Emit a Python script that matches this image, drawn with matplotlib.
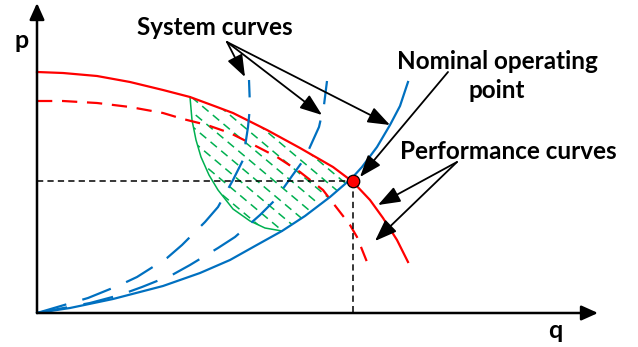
import numpy as np
import matplotlib
matplotlib.use("Agg")
import matplotlib.pyplot as plt
from matplotlib.patches import Polygon, FancyArrowPatch

plt.rcParams['lines.scale_dashes'] = False
plt.rcParams['lines.solid_joinstyle'] = 'round'
plt.rcParams['lines.dash_joinstyle'] = 'round'
plt.rcParams['font.family'] = ['Lato', 'DejaVu Sans']

# ---- Data (schematic units: q flow, p pressure) ----
perf_q = [0, 26, 60, 93, 126, 153, 180, 196, 210, 230, 263, 296, 316, 333, 346, 360, 371]
perf_p = [241, 240, 237, 231, 223, 216, 206, 200, 193, 183, 165, 146, 131, 113, 95, 73, 51]
perf2_q = [0, 26, 60, 93, 126, 146, 170, 193, 213, 240, 263, 286, 296, 313, 320, 330]
perf2_p = [212, 212, 210, 206, 200, 194, 188, 180, 170, 156, 141, 123, 110, 88, 76, 51]
sys1_q = [0, 33, 76, 126, 163, 193, 218, 245, 268, 293, 315, 325, 340, 353, 363, 371]
sys1_p = [0, 5, 14, 27, 40, 53, 67, 82, 97, 116, 135, 146, 166, 188, 207, 231]
sys2_q = [0, 53, 83, 105, 135, 153, 181, 198, 223, 238, 255, 268, 282, 287, 290]
sys2_p = [0, 10, 18, 26, 38, 48, 65, 76, 98, 113, 137, 155, 186, 208, 232]
sys3_q = [0, 51, 83, 100, 130, 145, 168, 181, 196, 206, 211, 213, 212]
sys3_p = [0, 15, 28, 36, 55, 68, 91, 106, 133, 153, 186, 206, 233]
bound_q = [153, 155, 159, 164, 172, 181, 196, 213, 228, 245]
bound_p = [216, 193, 173, 156, 138, 123, 104, 92, 85, 82]
op_q, op_p = 316, 132

RED = '#ff0000'
BLUE = '#0070c0'
GREEN = '#00b050'

fig = plt.figure(figsize=(6.38, 3.47), dpi=100)
ax = fig.add_axes([0, 0, 1, 1])
ax.set_xlim(-37, 601)
ax.set_ylim(-34, 313)
ax.axis('off')

# ---- hatched operating region ----
pq1, pp1 = np.array(perf_q), np.array(perf_p)
sq1, sp1 = np.array(sys1_q), np.array(sys1_p)
m_sys = (sq1 > bound_q[-1]) & (sq1 < op_q)
m_perf = (pq1 > bound_q[0]) & (pq1 < op_q)
poly_q = list(bound_q) + list(sq1[m_sys]) + [op_q] + list(pq1[m_perf][::-1])
poly_p = list(bound_p) + list(sp1[m_sys]) + [op_p] + list(pp1[m_perf][::-1])
region = Polygon(np.column_stack([poly_q, poly_p]), closed=True,
                 facecolor='none', edgecolor='none')
ax.add_patch(region)
ang = np.deg2rad(-40)
d = np.array([np.cos(ang), np.sin(ang)])
n = np.array([-d[1], d[0]])
pts = np.column_stack([poly_q, poly_p])
proj = pts @ n
for off in np.arange(proj.min() + 4, proj.max(), 11):
    c = n * off
    seg = np.array([c - 400 * d, c + 400 * d])
    ln, = ax.plot(seg[:, 0], seg[:, 1], color=GREEN, lw=1.1,
                  linestyle=(0, (6, 4)), zorder=1)
    ln.set_clip_path(region)

ax.plot(bound_q, bound_p, color=GREEN, lw=1.1, zorder=2)

# ---- performance curves ----
ax.plot(perf_q, perf_p, color=RED, lw=1.6, zorder=3)
ax.plot(perf2_q, perf2_p, color=RED, lw=1.6, linestyle=(0, (11, 7)), zorder=3)

# ---- system curves ----
ax.plot(sys1_q, sys1_p, color=BLUE, lw=1.6, zorder=4)
ax.plot(sys2_q, sys2_p, color=BLUE, lw=1.6, linestyle=(0, (22, 12)), zorder=4)
ax.plot(sys3_q, sys3_p, color=BLUE, lw=1.6, linestyle=(0, (22, 12)), zorder=4)

# ---- guides to operating point ----
ax.plot([0, op_q], [op_p, op_p], color='black', lw=1.1,
        linestyle=(0, (4.5, 3)), zorder=5)
ax.plot([op_q, op_q], [op_p, 0], color='black', lw=1.1,
        linestyle=(0, (4.5, 3)), zorder=5)
ax.plot([op_q], [op_p], 'o', ms=9, mfc=RED, mec='black', mew=0.9, zorder=7)

# ---- axes with arrows ----
axis_style = '-|>,head_length=1.0,head_width=0.45'
for end in [(561, 0), (0, 310)]:
    ax.add_patch(FancyArrowPatch((0, 0), end, arrowstyle=axis_style,
                                 mutation_scale=10, lw=1.8, color='black',
                                 shrinkA=0, shrinkB=0, zorder=6))

# ---- annotation arrows ----
ann_style = '-|>,head_length=1.35,head_width=0.5'
def arrow(start, tip):
    ax.add_patch(FancyArrowPatch(start, tip, arrowstyle=ann_style,
                                 mutation_scale=10, lw=1.3, color='black',
                                 shrinkA=0, shrinkB=0, zorder=8))

for tip in [(208, 236), (285, 198), (353, 188)]:
    arrow((190, 271), tip)
arrow((411, 241), (323, 136))
for tip in [(341, 108), (338, 72)]:
    arrow((420, 151), tip)

# ---- labels ----
fs = 17.5
ax.text(-15, 273, 'p', fontsize=18, fontweight='bold', ha='center', va='center')
ax.text(518, -17, 'q', fontsize=18, fontweight='bold', ha='center', va='center')
ax.text(178, 286, 'System curves', fontsize=fs, fontweight='bold',
        ha='center', va='center')
ax.text(460, 237, 'Nominal operating\npoint', fontsize=fs, fontweight='bold',
        ha='center', va='center', linespacing=1.3)
ax.text(471, 162, 'Performance curves', fontsize=fs, fontweight='bold',
        ha='center', va='center')

fig.savefig('out.png', dpi=100)
